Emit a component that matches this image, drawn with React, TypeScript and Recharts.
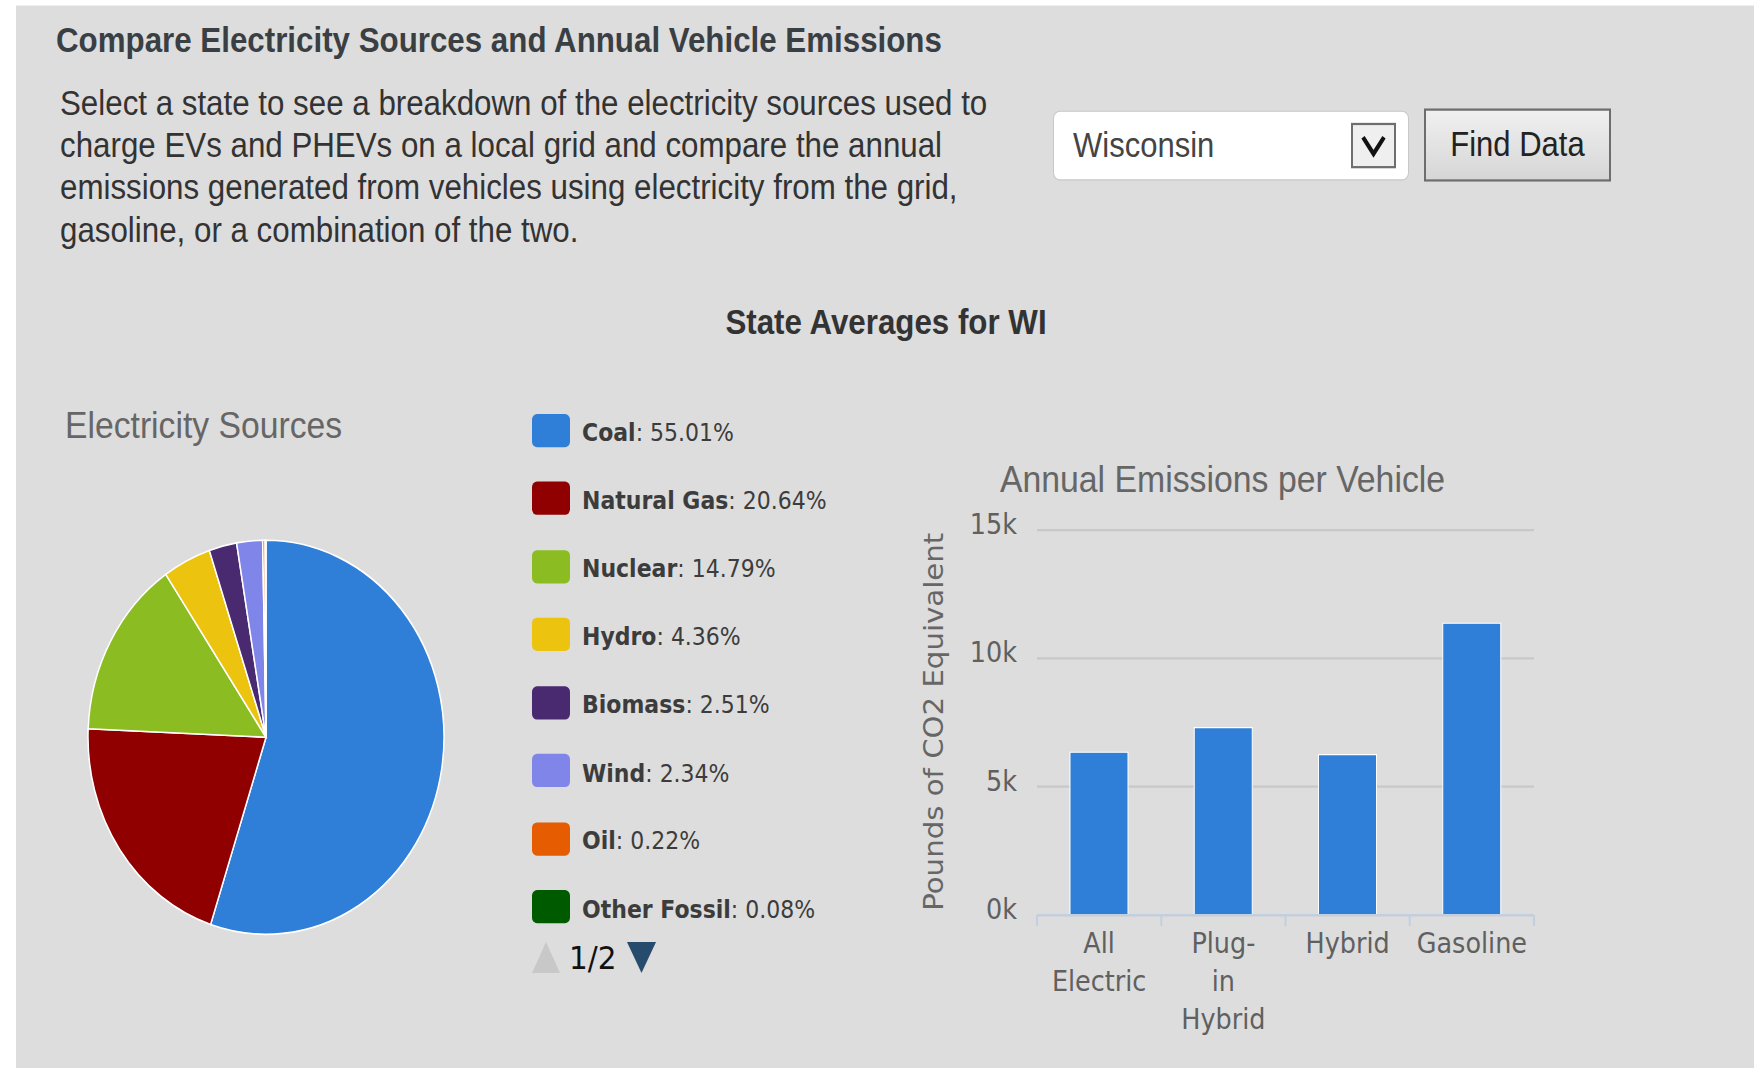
import { PieChart, Pie, Cell, BarChart, Bar, XAxis, YAxis, CartesianGrid } from "recharts";

// electricity mix for WI
const sources = ["Coal", "Natural Gas", "Nuclear", "Hydro", "Biomass", "Wind", "Oil", "Other Fossil"];
const shares = [55.01, 20.64, 14.79, 4.36, 2.51, 2.34, 0.22, 0.08];
const sourceColors = ["#2f7ed8", "#910000", "#8bbc21", "#ecc30e", "#492970", "#8085e9", "#e65c00", "#005a00"];

// annual emissions per vehicle (lbs CO2e)
const vehicles = ["All Electric", "Plug-in Hybrid", "Hybrid", "Gasoline"];
const vehicleLines = [["All", "Electric"], ["Plug-", "in", "Hybrid"], ["Hybrid"], ["Gasoline"]];
const emissions = [6340, 7300, 6250, 11370];
const yTicks = [0, 5000, 10000, 15000];

const pieData = sources.map((name, i) => ({ name, value: shares[i] }));
const barData = vehicles.map((name, i) => ({ name, value: emissions[i] }));

const SANS = '"Liberation Sans", Arial, sans-serif';
const CHART = '"DejaVu Sans", Verdana, sans-serif';

function YTick(props: any) {
  const { x, y, payload } = props;
  return (
    <text x={x} y={y} dy={3.6} textAnchor="end" fill="#606060" fontSize={25.5} fontFamily={CHART}>
      {payload.value / 1000 + "k"}
    </text>
  );
}

function XTick(props: any) {
  const { x, y, payload, width, visibleTicksCount } = props;
  const idx = vehicles.indexOf(payload.value);
  const half = (width || 497) / (visibleTicksCount || vehicles.length) / 2;
  const lines = vehicleLines[idx] || [payload.value];
  return (
    <g>
      <line x1={x - half} x2={x - half} y1={y} y2={y + 10} stroke="#c0d0e0" strokeWidth={2} />
      {idx === vehicles.length - 1 && (
        <line x1={x + half} x2={x + half} y1={y} y2={y + 10} stroke="#c0d0e0" strokeWidth={2} />
      )}
      {lines.map((t, i) => (
        <text key={i} x={x} y={y + 34.7 + i * 34} textAnchor="middle" fill="#606060" fontSize={25.5} fontFamily={CHART}>
          {t}
        </text>
      ))}
    </g>
  );
}

export default function App() {
  return (
    <div
      style={{
        position: "absolute",
        left: 0,
        top: 0,
        width: 1754,
        height: 965,
        background: "#fff",
        transform: "scaleY(1.107)",
        transformOrigin: "0 0",
        overflow: "hidden",
      }}
    >
      <div style={{ position: "absolute", left: 16, top: 5, width: 1738, height: 960, background: "#dddddd" }} />

      <div style={{ position: "absolute", left: 56, top: 21, fontFamily: SANS, fontSize: 31.3, lineHeight: "31px", fontWeight: "bold", color: "#3a3f44", whiteSpace: "nowrap" }}>
        Compare Electricity Sources and Annual Vehicle Emissions
      </div>

      <div style={{ position: "absolute", left: 60, top: 75.3, fontFamily: SANS, fontSize: 31.3, lineHeight: "38.1px", color: "#333", whiteSpace: "nowrap" }}>
        Select a state to see a breakdown of the electricity sources used to
        <br />
        charge EVs and PHEVs on a local grid and compare the annual
        <br />
        emissions generated from vehicles using electricity from the grid,
        <br />
        gasoline, or a combination of the two.
      </div>

      {/* state picker */}
      <div style={{ position: "absolute", left: 1053, top: 100, width: 356, height: 63, boxSizing: "border-box", border: "1px solid #c8c8c8", borderRadius: 7, background: "#fff" }}>
        <div style={{ position: "absolute", left: 19, top: 0, lineHeight: "61px", fontFamily: SANS, fontSize: 31, color: "#444" }}>Wisconsin</div>
      </div>
      <div style={{ position: "absolute", left: 1351, top: 111, width: 45, height: 41, boxSizing: "border-box", border: "2px solid #6e6e6e", background: "#efefef" }}>
        <svg width={41} height={37} style={{ position: "absolute", left: 0, top: 0 }}>
          <polyline points="10,11 20.5,26 31,11" fill="none" stroke="#111" strokeWidth={4} />
        </svg>
      </div>
      <div style={{ position: "absolute", left: 1424, top: 97.6, width: 187, height: 66, boxSizing: "border-box", border: "2px solid #6d6d6d", background: "linear-gradient(#f0f0f0, #d6d6d6)", textAlign: "center", lineHeight: "62px", fontFamily: SANS, fontSize: 31, color: "#222" }}>
        Find Data
      </div>

      <div style={{ position: "absolute", left: 586, width: 600, top: 276, textAlign: "center", fontFamily: SANS, fontSize: 31.3, lineHeight: "31px", fontWeight: "bold", color: "#333" }}>
        State Averages for WI
      </div>

      {/* pie */}
      <div style={{ position: "absolute", left: 65, top: 367, fontFamily: SANS, fontSize: 33.7, lineHeight: "34px", color: "#666", whiteSpace: "nowrap" }}>
        Electricity Sources
      </div>
      <div style={{ position: "absolute", left: 86, top: 485.8 }}>
        <PieChart width={360} height={360} margin={{ top: 0, right: 0, bottom: 0, left: 0 }}>
          <Pie
            data={pieData}
            dataKey="value"
            nameKey="name"
            cx="50%"
            cy="50%"
            outerRadius={178}
            startAngle={90}
            endAngle={-270}
            stroke="#fff"
            strokeWidth={1.5}
            isAnimationActive={false}
          >
            {pieData.map((d, i) => (
              <Cell key={d.name} fill={sourceColors[i]} />
            ))}
          </Pie>
        </PieChart>
      </div>

      {sources.map((name, i) => (
        <div key={name} style={{ position: "absolute", left: 532, top: 388.9 + i * 61.5 - 15, height: 30, display: "flex", alignItems: "center", whiteSpace: "nowrap" }}>
          <div style={{ width: 38, height: 29.8, borderRadius: 5, background: sourceColors[i] }} />
          <div style={{ marginLeft: 12, position: "relative", top: 2, fontFamily: CHART, fontSize: 22, color: "#3c3c3c" }}>
            <b>{name}</b>: {shares[i].toFixed(2)}%
          </div>
        </div>
      ))}

      <svg width={170} height={48} style={{ position: "absolute", left: 530, top: 841 }}>
        <polygon points="2,38 16,10 30,38" fill="#c8c8c8" />
        <text x={39} y={34} fontFamily={CHART} fontSize={29.5} fill="#111">1/2</text>
        <polygon points="97,10 126,10 111.5,38" fill="#274b6d" />
      </svg>

      {/* bars */}
      <div style={{ position: "absolute", left: 999, width: 447, top: 415, textAlign: "center", fontFamily: SANS, fontSize: 33.8, lineHeight: "34px", color: "#666", whiteSpace: "nowrap" }}>
        Annual Emissions per Vehicle
      </div>
      <div style={{ position: "absolute", left: 734, width: 400, top: 652 - 17, height: 34, textAlign: "center", lineHeight: "34px", fontFamily: CHART, fontSize: 26.4, color: "#666", transform: "rotate(-90deg)", transformOrigin: "200px 17px", whiteSpace: "nowrap" }}>
        Pounds of CO2 Equivalent
      </div>
      <div style={{ position: "absolute", left: 900, top: 400 }}>
        <BarChart width={700} height={600} data={barData} margin={{ top: 78.8, right: 66, bottom: 53.4, left: 0 }}>
          <CartesianGrid vertical={false} stroke="#c8c8c8" strokeWidth={2} />
          <XAxis
            dataKey="name"
            height={120}
            interval={0}
            axisLine={{ stroke: "#c0d0e0", strokeWidth: 2 }}
            tickLine={false}
            tickSize={0}
            tickMargin={0}
            tick={<XTick />}
          />
          <YAxis
            width={137}
            domain={[0, 15000]}
            ticks={yTicks}
            axisLine={false}
            tickLine={false}
            tickSize={0}
            tickMargin={20}
            tick={<YTick />}
          />
          <Bar dataKey="value" fill="#2f7ed8" stroke="#fff" strokeWidth={1} barSize={58} isAnimationActive={false} />
        </BarChart>
      </div>
    </div>
  );
}
